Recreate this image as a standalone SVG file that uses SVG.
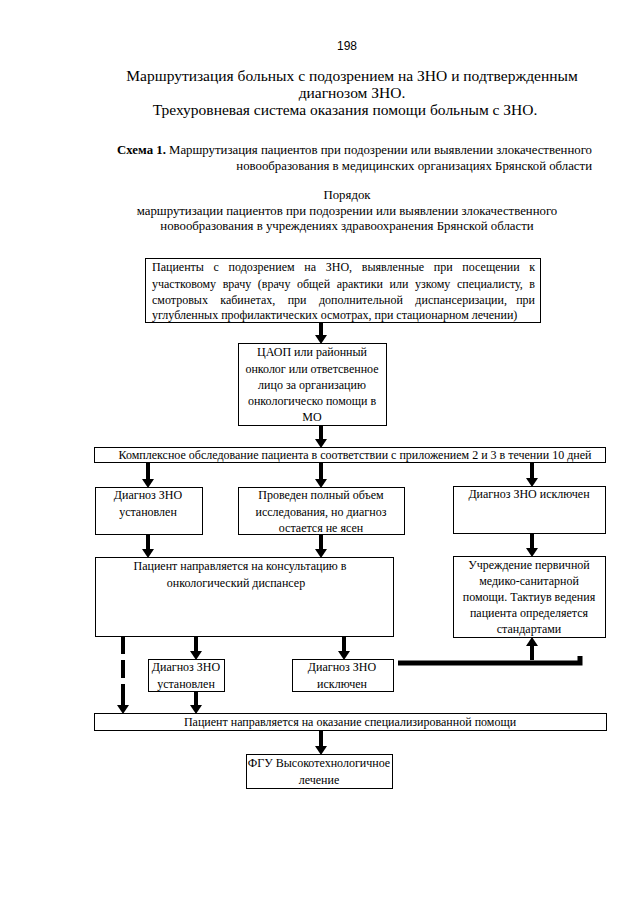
<svg xmlns="http://www.w3.org/2000/svg" width="640" height="905" viewBox="0 0 640 905">
<style>
text{font-family:"Liberation Serif","Times New Roman",serif;fill:#000}
.t{font-size:15.5px;text-anchor:middle}
.s{font-size:12.8px}
.b{font-size:12px;text-anchor:middle}
.j{font-size:12px}
.e{font-size:12px;text-anchor:end}
.box{fill:#fff;stroke:#000;stroke-width:1}
.ar{stroke:#000;stroke-width:4;fill:none;marker-end:url(#ah)}
</style>
<defs>
<marker id="ah" markerUnits="userSpaceOnUse" markerWidth="9" markerHeight="12" refX="0" refY="6" orient="auto" viewBox="0 0 9 12">
<path d="M0,0 L9,6 L0,12 z" fill="#000"/>
</marker>
</defs>
<rect width="640" height="905" fill="#fff"/>
<g id="header">
<text x="347" y="50" style="font-family:'Liberation Sans',Arial,sans-serif;font-size:12px;text-anchor:middle">198</text>
<text class="t" x="352" y="81">Маршрутизация больных с подозрением на ЗНО и подтвержденным</text>
<text class="t" x="352" y="98">диагнозом ЗНО.</text>
<text class="t" x="345" y="115">Трехуровневая система оказания помощи больным с ЗНО.</text>
<text class="s" x="592" y="154" text-anchor="end"><tspan font-weight="bold">Схема 1.</tspan> Маршрутизация пациентов при подозрении или выявлении злокачественного</text>
<text class="s" x="592" y="170" text-anchor="end">новообразования в медицинских организациях Брянской области</text>
<text class="s" x="347" y="199" text-anchor="middle">Порядок</text>
<text class="s" x="347" y="215" text-anchor="middle">маршрутизации пациентов при подозрении или выявлении злокачественного</text>
<text class="s" x="347" y="230" text-anchor="middle">новообразования в учреждениях здравоохранения Брянской области</text>
</g>
<g id="connectors">
<line class="ar" x1="321" y1="322" x2="321" y2="335"/>
<line class="ar" x1="321" y1="425" x2="321" y2="439"/>
<line class="ar" x1="148" y1="463" x2="148" y2="479"/>
<line class="ar" x1="321" y1="463" x2="321" y2="479"/>
<line class="ar" x1="532" y1="463" x2="532" y2="478"/>
<line class="ar" x1="148" y1="534" x2="148" y2="549"/>
<line class="ar" x1="321" y1="535" x2="321" y2="549"/>
<line class="ar" x1="532" y1="533" x2="532" y2="548"/>
<line class="ar" x1="196" y1="636" x2="196" y2="651"/>
<line class="ar" x1="344" y1="636" x2="344" y2="651"/>
<line class="ar" x1="532" y1="660" x2="532" y2="646"/>
<line class="ar" x1="196" y1="691" x2="196" y2="705"/>
<line x1="123" y1="636" x2="123" y2="700" stroke="#000" stroke-width="4" stroke-dasharray="18,6"/>
<line class="ar" x1="123" y1="700" x2="123" y2="705"/>
<line class="ar" x1="321" y1="730" x2="321" y2="746"/>
<path d="M398,663 L580,663 L580,656" stroke="#000" stroke-width="5" fill="none"/>
</g>
<g id="n1">
<rect class="box" x="145.5" y="258.5" width="395" height="64"/>
<text class="j" x="152" y="271" word-spacing="6.7">Пациенты с подозрением на ЗНО, выявленные при посещении</text>
<text class="e" x="535" y="271">к</text>
<text class="j" x="152" y="288" word-spacing="3.6">участковому врачу (врачу общей арактики или узкому специалисту,</text>
<text class="e" x="535" y="288">в</text>
<text class="j" x="152" y="304" word-spacing="9.4">смотровых кабинетах, при дополнительной диспансеризации,</text>
<text class="e" x="535" y="304">при</text>
<text class="j" x="152" y="319">углубленных профилактических осмотрах, при стационарном лечении)</text>
</g>
<g id="n2">
<rect class="box" x="238.5" y="343.5" width="148" height="82"/>
<text class="b" x="312" y="356">ЦАОП или районный</text>
<text class="b" x="312" y="373">онколог или ответсвенное</text>
<text class="b" x="312" y="389">лицо за организацию</text>
<text class="b" x="312" y="405">онкологическо помощи в</text>
<text class="b" x="312" y="421">МО</text>
</g>
<g id="n3">
<rect class="box" x="94.5" y="447.5" width="511" height="15"/>
<text class="b" x="355" y="459">Комплексное обследование пациента в соответствии с приложением 2 и 3 в течении 10 дней</text>
</g>
<g id="n4">
<rect class="box" x="95.5" y="487.5" width="107" height="47"/>
<text class="b" x="148" y="499">Диагноз ЗНО</text>
<text class="b" x="148" y="516">установлен</text>
</g>
<g id="n5">
<rect class="box" x="238.5" y="487.5" width="166" height="47"/>
<text class="b" x="321" y="499">Проведен полный объем</text>
<text class="b" x="321" y="516">исследования, но диагноз</text>
<text class="b" x="321" y="532">остается не ясен</text>
</g>
<g id="n6">
<rect class="box" x="453.5" y="486.5" width="152" height="47"/>
<text class="b" x="529" y="498">Диагноз ЗНО исключен</text>
</g>
<g id="n7">
<rect class="box" x="95.5" y="557.5" width="298" height="79"/>
<text class="b" x="240" y="570">Пациент направляется на консультацию в</text>
<text class="b" x="236" y="587">онкологический диспансер</text>
</g>
<g id="n8">
<rect class="box" x="453.5" y="556.5" width="152" height="81"/>
<text class="b" x="529" y="569">Учреждение первичной</text>
<text class="b" x="529" y="585">медико-санитарной</text>
<text class="b" x="529" y="601">помощи. Тактиув ведения</text>
<text class="b" x="529" y="617">пациента определяется</text>
<text class="b" x="529" y="633">стандартами</text>
</g>
<g id="n9">
<rect class="box" x="148.5" y="659.5" width="76" height="32"/>
<text class="b" x="186" y="671">Диагноз ЗНО</text>
<text class="b" x="186" y="688">установлен</text>
</g>
<g id="n10">
<rect class="box" x="292.5" y="659.5" width="101" height="32"/>
<text class="b" x="342" y="671">Диагноз ЗНО</text>
<text class="b" x="342" y="688">исключен</text>
</g>
<g id="n11">
<rect class="box" x="94.5" y="713.5" width="512" height="17"/>
<text class="b" x="350" y="726">Пациент направляется на оказание специализированной помощи</text>
</g>
<g id="n12">
<rect class="box" x="246.5" y="754.5" width="146" height="34"/>
<text class="b" x="319" y="767">ФГУ Высокотехнологичное</text>
<text class="b" x="319" y="784">лечение</text>
</g>
</svg>
